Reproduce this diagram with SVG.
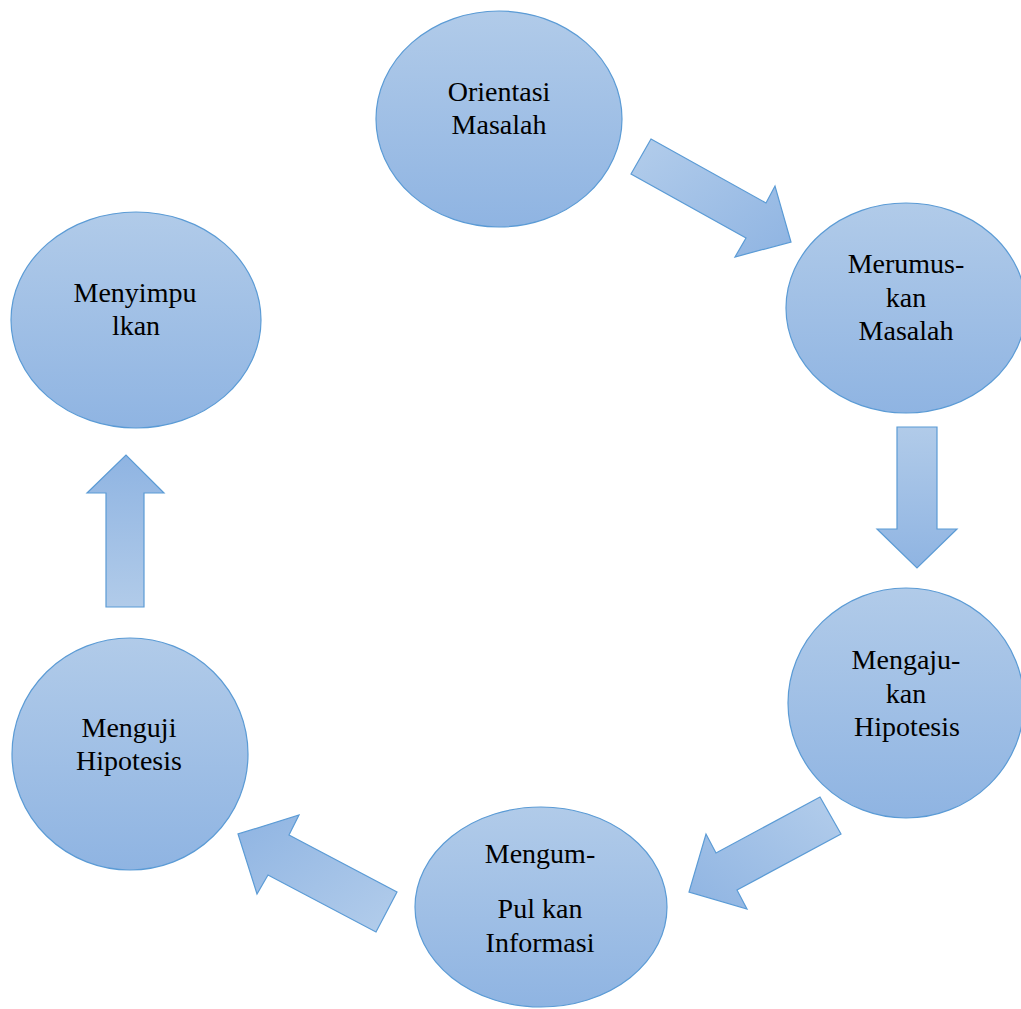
<svg xmlns="http://www.w3.org/2000/svg" width="1021" height="1009" viewBox="0 0 1021 1009">
<defs>
<linearGradient id="gEll" x1="0" y1="0" x2="0" y2="1">
<stop offset="0" stop-color="#b1cbe9"/>
<stop offset="1" stop-color="#8fb4e2"/>
</linearGradient>
<linearGradient id="gDR" x1="0" y1="0" x2="1" y2="1">
<stop offset="0" stop-color="#b3cdeb"/>
<stop offset="1" stop-color="#8fb4e2"/>
</linearGradient>
<linearGradient id="gD" x1="0" y1="0" x2="0" y2="1">
<stop offset="0" stop-color="#b1cbe9"/>
<stop offset="1" stop-color="#8fb4e2"/>
</linearGradient>
<linearGradient id="gDL" x1="1" y1="0" x2="0" y2="1">
<stop offset="0" stop-color="#b3cdeb"/>
<stop offset="1" stop-color="#8fb4e2"/>
</linearGradient>
<linearGradient id="gUL" x1="1" y1="1" x2="0" y2="0">
<stop offset="0" stop-color="#b3cdeb"/>
<stop offset="1" stop-color="#8fb4e2"/>
</linearGradient>
<linearGradient id="gU" x1="0" y1="1" x2="0" y2="0">
<stop offset="0" stop-color="#b1cbe9"/>
<stop offset="1" stop-color="#8fb4e2"/>
</linearGradient>
</defs>
<style>
.node ellipse { fill: url(#gEll); stroke: #5b9bd5; stroke-width: 1.2; }
.lbl { font-family: "Liberation Serif", "Times New Roman", serif; font-size: 28px; fill: #000; text-anchor: middle; }
.arr { stroke: #5b9bd5; stroke-width: 1.2; stroke-linejoin: miter; }
</style>
<rect width="1021" height="1009" fill="#ffffff"/>

<g id="connectors">
<polygon id="arrow1" class="arr" fill="url(#gDR)" points="651,139 766,203 775,186 791,242 735,257 746,238 631,174"/>
<polygon id="arrow2" class="arr" fill="url(#gD)" points="897,427 937,427 937,529 957,529 917,568 877,529 897,529"/>
<polygon id="arrow3" class="arr" fill="url(#gDL)" points="820,797 841,834 737,890 747,909 689,892 706,834 716,853"/>
<polygon id="arrow4" class="arr" fill="url(#gUL)" points="397,892 376,932 268,875 257,894 238,834 299,815 289,835"/>
<polygon id="arrow5" class="arr" fill="url(#gU)" points="106,607 144,607 144,493 164,493 126,455 87,493 106,493"/>
</g>

<g id="node-orientasi" class="node">
<ellipse cx="499" cy="119" rx="123" ry="108"/>
<text class="lbl" x="499" y="101">Orientasi</text>
<text class="lbl" x="499" y="134">Masalah</text>
</g>

<g id="node-merumuskan" class="node">
<ellipse cx="906" cy="308" rx="120" ry="105"/>
<text class="lbl" x="906" y="273">Merumus-</text>
<text class="lbl" x="906" y="307">kan</text>
<text class="lbl" x="906" y="340">Masalah</text>
</g>

<g id="node-mengajukan" class="node">
<ellipse cx="906" cy="703" rx="118" ry="115"/>
<text class="lbl" x="906" y="669">Mengaju-</text>
<text class="lbl" x="906" y="703">kan</text>
<text class="lbl" x="907" y="736">Hipotesis</text>
</g>

<g id="node-mengumpulkan" class="node">
<ellipse cx="541" cy="907" rx="126" ry="100"/>
<text class="lbl" x="540" y="863">Mengum-</text>
<text class="lbl" x="540" y="918">Pul kan</text>
<text class="lbl" x="540" y="952">Informasi</text>
</g>

<g id="node-menguji" class="node">
<ellipse cx="130" cy="754" rx="118" ry="116"/>
<text class="lbl" x="129" y="737">Menguji</text>
<text class="lbl" x="129" y="770">Hipotesis</text>
</g>

<g id="node-menyimpulkan" class="node">
<ellipse cx="136" cy="320" rx="125" ry="108"/>
<text class="lbl" x="135" y="302">Menyimpu</text>
<text class="lbl" x="136" y="335">lkan</text>
</g>
</svg>
